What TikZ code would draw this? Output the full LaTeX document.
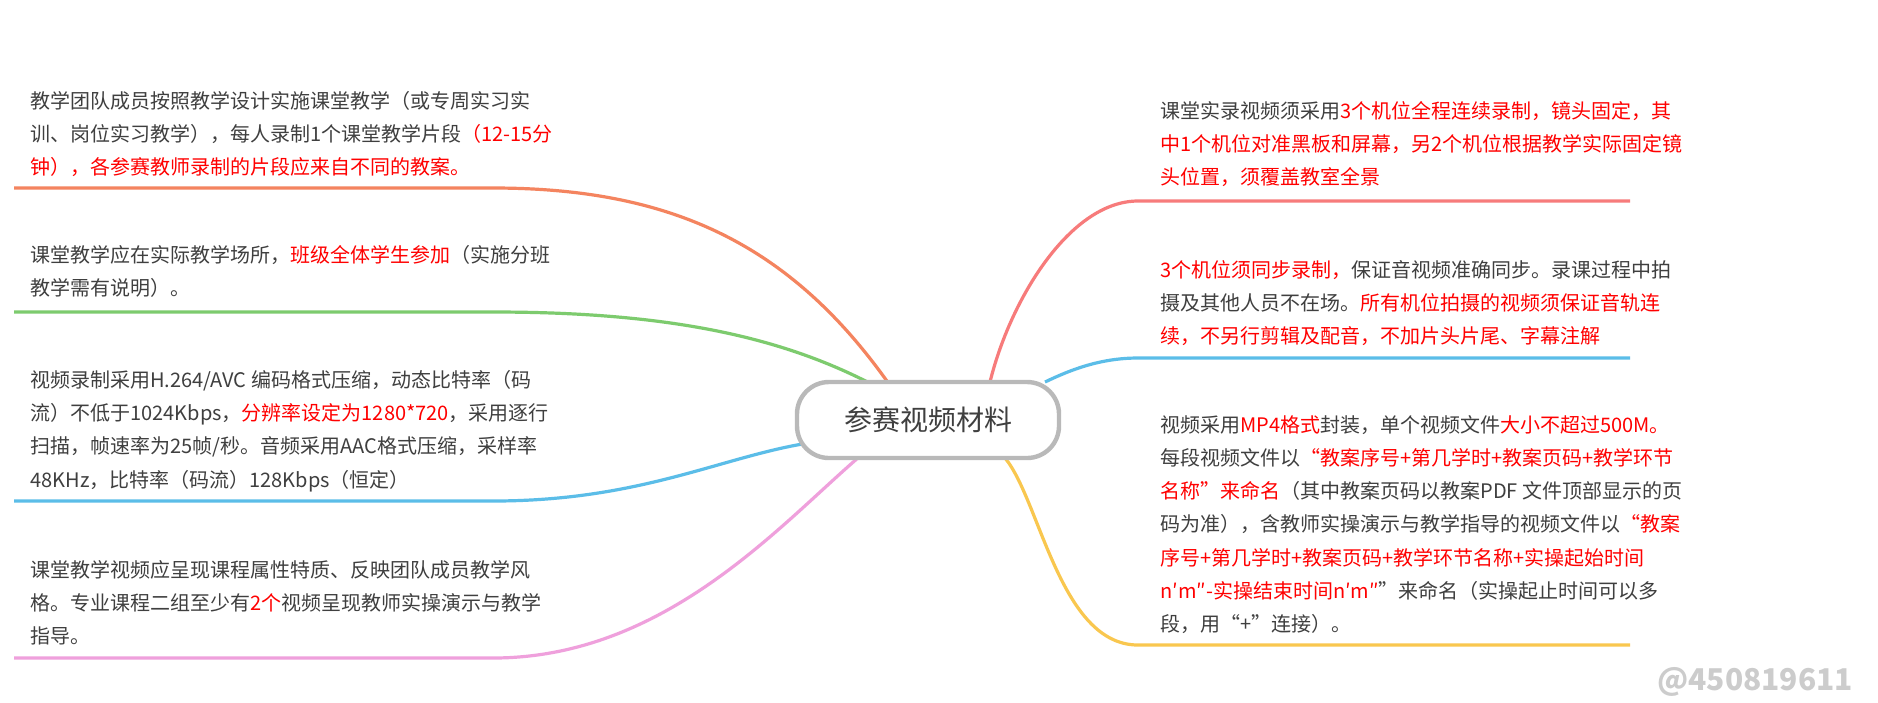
\documentclass[tikz,border=0pt]{standalone}
\usepackage{fontspec}
\setmainfont{Noto Sans CJK SC}
\begin{document}
\begin{tikzpicture}[x=0.5pt,y=-0.5pt,
  txt/.style={anchor=north west,align=left,inner sep=0pt,text=tgray,font=\fontsize{10}{16.6}\selectfont},
  br/.style={line width=1.6pt}]
\definecolor{tgray}{HTML}{3F3F3F}
\definecolor{rd}{HTML}{FF0000}
\definecolor{corange}{HTML}{F4845F}
\definecolor{cgreen}{HTML}{7DCB6E}
\definecolor{cblue}{HTML}{5BBDE8}
\definecolor{cpink}{HTML}{EFA0DC}
\definecolor{csalmon}{HTML}{F77B7B}
\definecolor{cyellow}{HTML}{F9C74F}
\newcommand{\R}[1]{\textcolor{rd}{#1}}
\fill[white] (0,0) rectangle (1878,701);
\coordinate (l1) at (493,188); \coordinate (l1s) at (14,188);
\coordinate (l2) at (493,312); \coordinate (l2s) at (14,312);
\coordinate (l3) at (493,501); \coordinate (l3s) at (14,501);
\coordinate (l4) at (493,658); \coordinate (l4s) at (14,658);
\coordinate (r1) at (1138,201); \coordinate (r1e) at (1630,201);
\coordinate (r2) at (1138,358); \coordinate (r2e) at (1630,358);
\coordinate (r3) at (1138,645); \coordinate (r3e) at (1630,645);
\coordinate (cl) at (900,400);
\coordinate (cl2) at (880,440);
\coordinate (cr) at (990,382);
\coordinate (cr2) at (1045,382);
\coordinate (cr3) at (1005,458);
\draw[br,corange] (l1s) -- (l1) .. controls (680,188) and (800,250) .. (cl);
\draw[br,cgreen] (l2s) -- (l2) .. controls (680,312) and (800,340) .. (cl);
\draw[br,cblue] (l3s) -- (l3) .. controls (680,501) and (760,430) .. (cl2);
\draw[br,cpink] (l4s) -- (l4) .. controls (680,658) and (800,500) .. (cl2);
\draw[br,csalmon] (r1e) -- (r1) .. controls (1070,201) and (1010,300) .. (cr);
\draw[br,cblue] (r2e) -- (r2) .. controls (1100,358) and (1070,370) .. (cr2);
\draw[br,cyellow] (r3e) -- (r3) .. controls (1060,645) and (1040,500) .. (cr3);
\node[draw=gray!55,line width=2.2pt,rounded corners=16pt,fill=white,font=\fontsize{14}{16}\selectfont,text=tgray,
  minimum width=131pt,minimum height=38pt] (c) at (928,420) {参赛视频材料};
% texts
\node[txt] (t1) at (30,91) {教学团队成员按照教学设计实施课堂教学（或专周实习实\\训、岗位实习教学），每人录制1个课堂教学片段\R{（12-15分}\\\R{钟），各参赛教师录制的片段应来自不同的教案。}};
\node[txt] (t2) at (30,245) {课堂教学应在实际教学场所，\R{班级全体学生参加}（实施分班\\教学需有说明）。};
\node[txt] (t3) at (30,370) {视频录制采用H.264/AVC 编码格式压缩，动态比特率（码\\流）不低于1024Kbps，\R{分辨率设定为1280*720}，采用逐行\\扫描，帧速率为25帧/秒。音频采用AAC格式压缩，采样率\\48KHz，比特率（码流）128Kbps（恒定）};
\node[txt] (t4) at (30,560) {课堂教学视频应呈现课程属性特质、反映团队成员教学风\\格。专业课程二组至少有\R{2个}视频呈现教师实操演示与教学\\指导。};
\node[txt] (t5) at (1160,101) {课堂实录视频须采用\R{3个机位全程连续录制，镜头固定，其}\\\R{中1个机位对准黑板和屏幕，另2个机位根据教学实际固定镜}\\\R{头位置，须覆盖教室全景}};
\node[txt] (t6) at (1160,260) {\R{3个机位须同步录制，}保证音视频准确同步。录课过程中拍\\摄及其他人员不在场。\R{所有机位拍摄的视频须保证音轨连}\\\R{续，不另行剪辑及配音，不加片头片尾、字幕注解}};
\node[txt] (t7) at (1160,415) {视频采用\R{MP4格式}封装，单个视频文件\R{大小不超过500M。}\\每段视频文件以\R{“教案序号+第几学时+教案页码+教学环节}\\\R{名称”来命名}（其中教案页码以教案PDF 文件顶部显示的页\\码为准），含教师实操演示与教学指导的视频文件以\R{“教案}\\\R{序号+第几学时+教案页码+教学环节名称+实操起始时间}\\\R{n′m″-实操结束时间n′m″}”来命名（实操起止时间可以多\\段，用“+”连接）。};
\node[anchor=base east,text=gray!40,font=\fontsize{15}{16}\selectfont\bfseries] (wm) at (1860,690) {@450819611};
\end{tikzpicture}
\end{document}
